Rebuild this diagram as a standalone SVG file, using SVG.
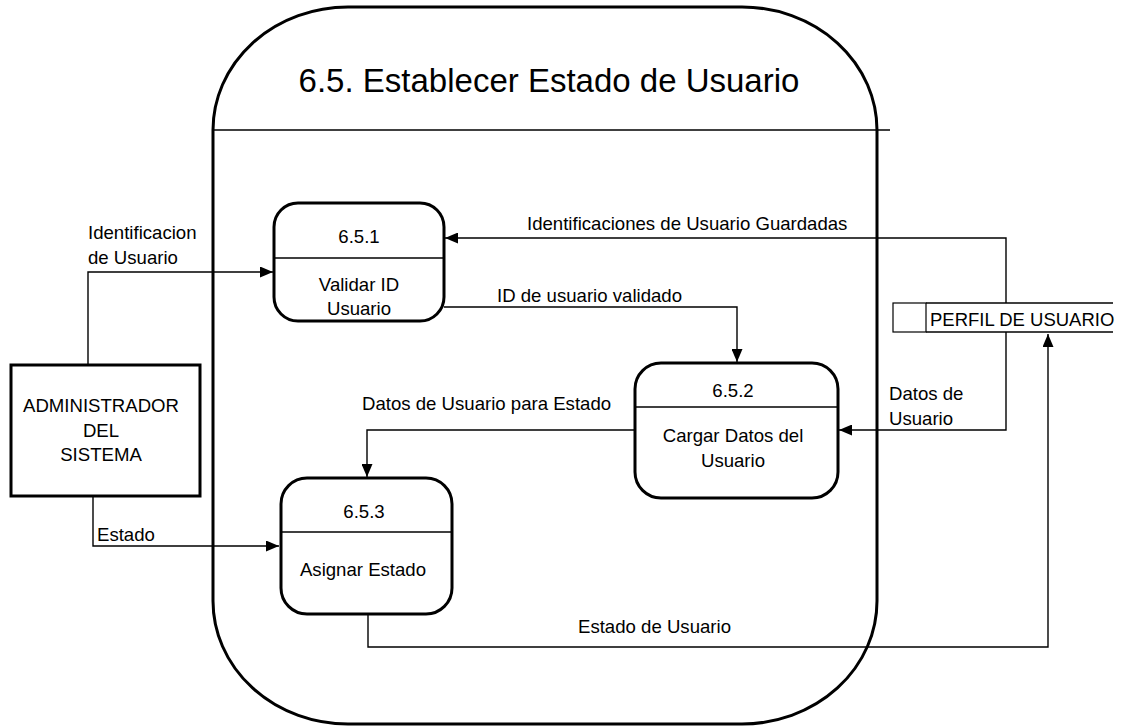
<svg xmlns="http://www.w3.org/2000/svg" width="1126" height="727" viewBox="0 0 1126 727">
<defs>
<style>
text{font-family:"Liberation Sans",Arial,sans-serif;font-size:18.6px;fill:#000}
.c{text-anchor:middle}
.title{font-size:33px}
.store{font-size:18.5px}
.thick{fill:none;stroke:#000;stroke-width:3}
.thin{fill:none;stroke:#000;stroke-width:1.4}
.bg{fill:#fff;stroke:#000;stroke-width:3}
</style>
<marker id="arr" markerUnits="userSpaceOnUse" markerWidth="13" markerHeight="11" refX="13" refY="5.5" orient="auto">
<path d="M0,0 L13,5.5 L0,11 z" fill="#000"/>
</marker>
</defs>
<rect width="1126" height="727" fill="#fff"/>
<g id="boundary">
<rect class="thick" x="213" y="7" width="664" height="717" rx="135" ry="123"/>
<line class="thin" x1="213" y1="130" x2="890" y2="130"/>
<text class="title c" x="549" y="92">6.5. Establecer Estado de Usuario</text>
</g>
<g id="connectors">
<path class="thin" d="M88,365 V272 H273" marker-end="url(#arr)"/>
<path class="thin" d="M1006,303 V238 H445" marker-end="url(#arr)"/>
<path class="thin" d="M444,307 H737 V362" marker-end="url(#arr)"/>
<path class="thin" d="M1006,332 V430 H839" marker-end="url(#arr)"/>
<path class="thin" d="M635,430 H367 V477" marker-end="url(#arr)"/>
<path class="thin" d="M93,496 V546 H279" marker-end="url(#arr)"/>
<path class="thin" d="M368,614 V647 H1048 V334" marker-end="url(#arr)"/>
<text x="88" y="239">Identificacion</text>
<text x="88" y="264">de Usuario</text>
<text x="527" y="230">Identificaciones de Usuario Guardadas</text>
<text x="497" y="302">ID de usuario validado</text>
<text x="889" y="400">Datos de</text>
<text x="889" y="425">Usuario</text>
<text x="362" y="410">Datos de Usuario para Estado</text>
<text x="97" y="541">Estado</text>
<text x="578" y="633">Estado de Usuario</text>
</g>
<g id="p651">
<rect class="bg" x="274" y="203" width="170" height="118" rx="24" ry="24"/>
<line class="thin" x1="274" y1="258" x2="444" y2="258"/>
<text class="c" x="359" y="243">6.5.1</text>
<text class="c" x="359" y="291">Validar ID</text>
<text class="c" x="359" y="315">Usuario</text>
</g>
<g id="p652">
<rect class="bg" x="635" y="363" width="203" height="135" rx="26" ry="26"/>
<line class="thin" x1="635" y1="407" x2="838" y2="407"/>
<text class="c" x="733" y="397">6.5.2</text>
<text class="c" x="733" y="442">Cargar Datos del</text>
<text class="c" x="733" y="467">Usuario</text>
</g>
<g id="p653">
<rect class="bg" x="281" y="478" width="171" height="136" rx="26" ry="26"/>
<line class="thin" x1="281" y1="532" x2="452" y2="532"/>
<text class="c" x="364" y="518">6.5.3</text>
<text class="c" x="363" y="576">Asignar Estado</text>
</g>
<g id="admin">
<rect class="bg" x="11" y="365" width="189" height="131"/>
<text class="c" x="101" y="412">ADMINISTRADOR</text>
<text class="c" x="101" y="437">DEL</text>
<text class="c" x="101" y="461">SISTEMA</text>
</g>
<g id="store">
<rect x="893" y="303" width="33" height="29" fill="#fff" stroke="#000" stroke-width="1.2"/>
<line class="thin" x1="926" y1="303" x2="1113" y2="303"/>
<line class="thin" x1="926" y1="332" x2="1113" y2="332"/>
<text class="store" x="930" y="326">PERFIL DE USUARIO</text>
</g>
</svg>
